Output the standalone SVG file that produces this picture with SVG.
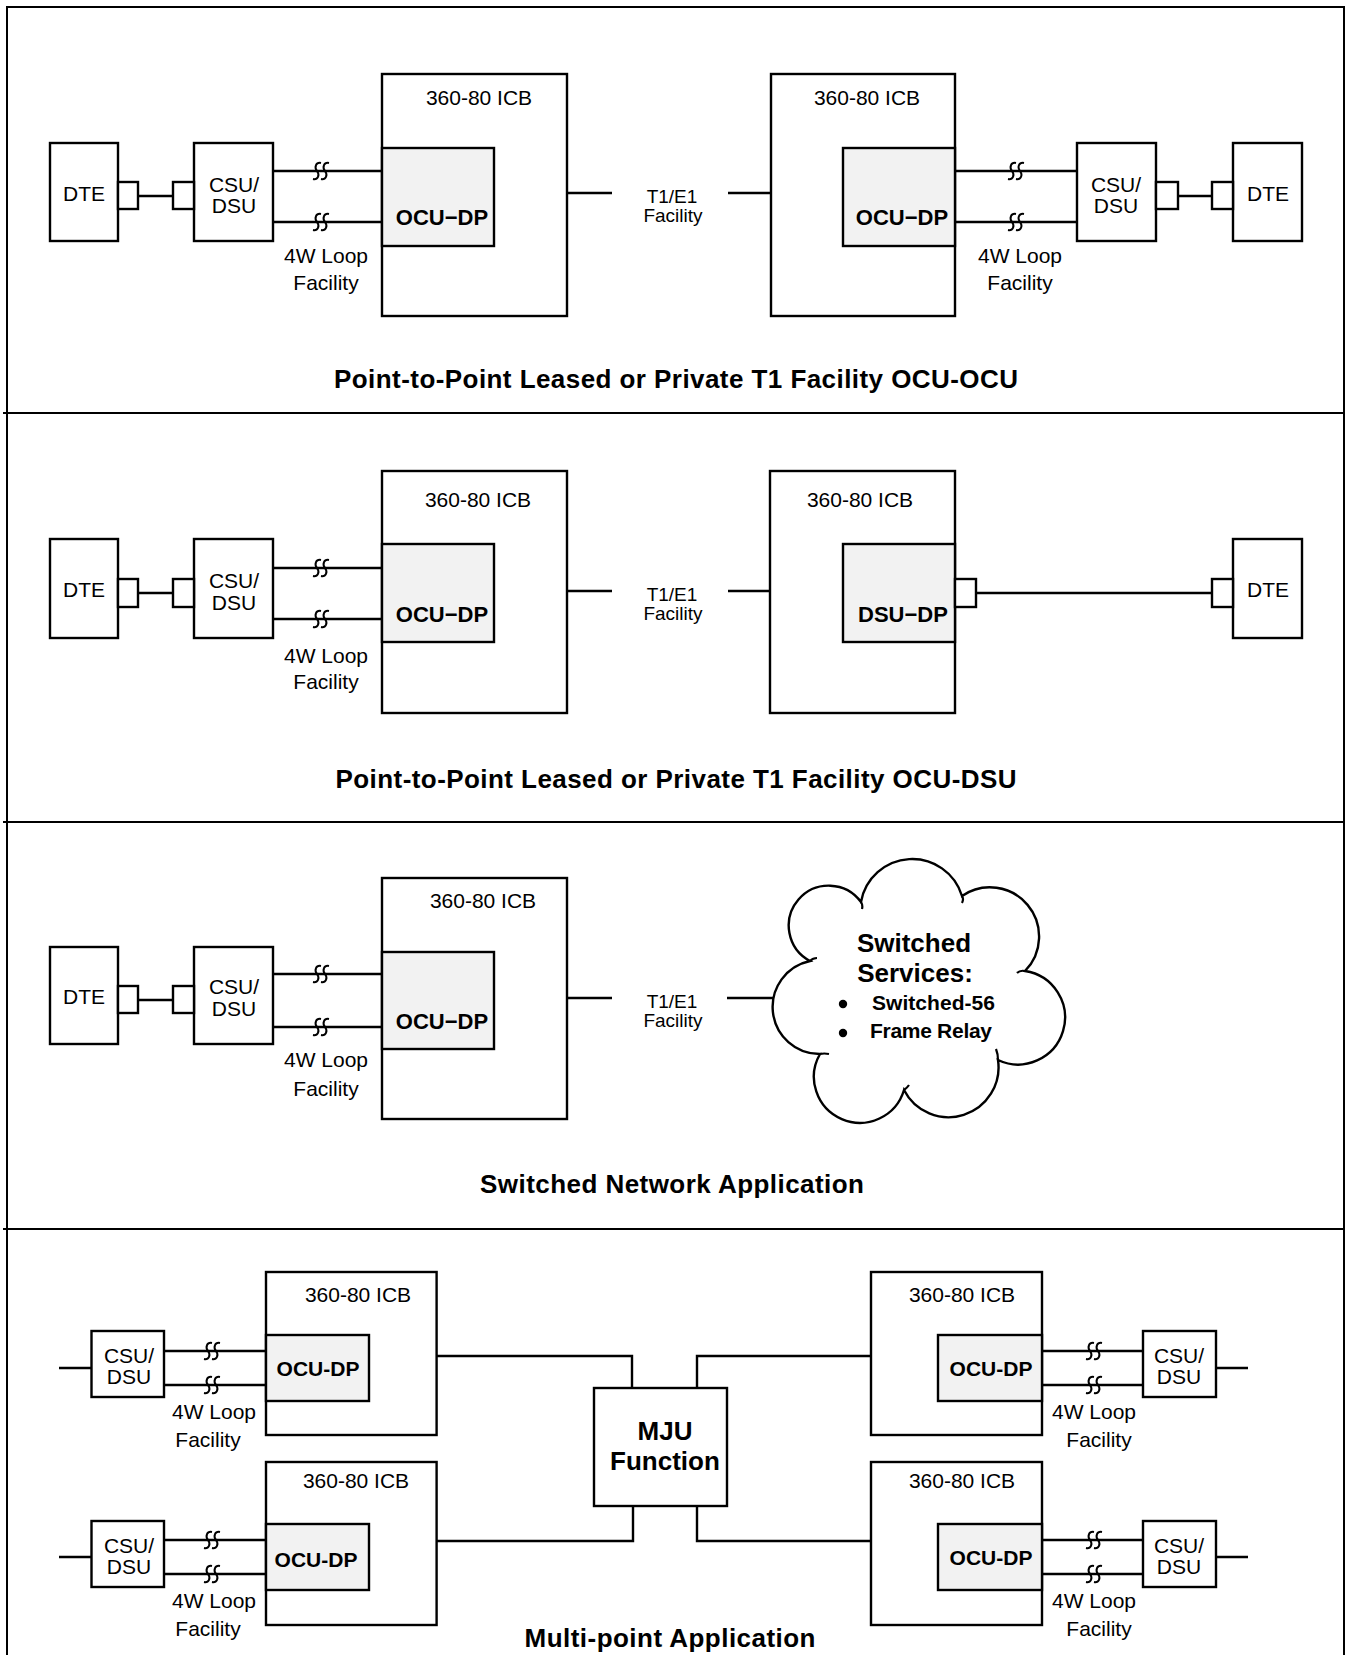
<svg xmlns="http://www.w3.org/2000/svg" xmlns:xlink="http://www.w3.org/1999/xlink" width="1350" height="1655" viewBox="0 0 1350 1655">
<style>
.b{fill:#fff;stroke:#000;stroke-width:2.4}
.g{fill:#f2f2f2;stroke:#000;stroke-width:2.4}
.w{fill:none;stroke:#000;stroke-width:2.4}
.fr{fill:none;stroke:#000;stroke-width:2}
.t{font-family:"Liberation Sans",Arial,Helvetica,sans-serif;font-size:21px;text-anchor:middle;fill:#000}
.s{font-size:19px}
.bd{font-weight:bold}
.ocu{font-weight:bold;font-size:22px}
.big{font-weight:bold;font-size:26px}
.st{text-anchor:start}
</style>
<defs>
<g id="brk" fill="none" stroke="#000" stroke-width="2">
<path d="M0,-8 C-5,-9 -7,-4 -4,0 C-1,4 -3,9 -8,8"/>
<path d="M8,-8 C3,-9 1,-4 4,0 C7,4 5,9 0,8"/>
</g>
</defs>
<rect width="1350" height="1655" fill="#fff"/>
<g id="frame">
<path class="fr" d="M7,1655 V7 H1344 V1655"/>
<path class="fr" stroke-width="1.8" d="M3,413 H1344 M3,822 H1344 M3,1229 H1344"/>
</g>

<g id="connectors">
<path class="w" d="M138,196 H173 M273,171 H382 M273,222 H382 M567,193 H612 M728,193 H771 M955,171 H1077 M955,222 H1077 M1178,196 H1212"/>
<path class="w" d="M138,593 H173 M273,568 H382 M273,619 H382 M567,591 H612 M728,591 H770 M976,593 H1212"/>
<path class="w" d="M138,1000 H173 M273,974 H382 M273,1027 H382 M567,998 H612 M727,998 H773"/>
<path class="w" d="M59,1368 H91.5 M164,1351 H266 M164,1385 H266 M59,1557 H91.5 M164,1540 H266 M164,1574 H266"/>
<path class="w" d="M1042,1351 H1143 M1042,1385 H1143 M1216,1368 H1248 M1042,1540 H1143 M1042,1574 H1143 M1216,1557 H1248"/>
<path class="w" d="M436.6,1356 H632 V1388 M436.6,1541 H633 V1506 M697,1388 V1356 H871 M697,1506 V1541 H871"/>
<use xlink:href="#brk" x="321" y="171"/><use xlink:href="#brk" x="321" y="222"/>
<use xlink:href="#brk" x="1016" y="171"/><use xlink:href="#brk" x="1016" y="222"/>
<use xlink:href="#brk" x="321" y="568"/><use xlink:href="#brk" x="321" y="619"/>
<use xlink:href="#brk" x="321" y="974"/><use xlink:href="#brk" x="321" y="1027"/>
<use xlink:href="#brk" x="212" y="1351"/><use xlink:href="#brk" x="212" y="1385"/>
<use xlink:href="#brk" x="212" y="1540"/><use xlink:href="#brk" x="212" y="1574"/>
<use xlink:href="#brk" x="1094" y="1351"/><use xlink:href="#brk" x="1094" y="1385"/>
<use xlink:href="#brk" x="1094" y="1540"/><use xlink:href="#brk" x="1094" y="1574"/>
</g>

<!-- ===== Section 1 ===== -->
<g id="s1-dte-left">
<rect class="b" x="50" y="143" width="68" height="98"/>
<rect class="b" x="118" y="182" width="20" height="27"/>
<text class="t" x="84" y="201">DTE</text>
</g>
<g id="s1-csu-left">
<rect class="b" x="194" y="143" width="79" height="98"/>
<rect class="b" x="173" y="182" width="21" height="27"/>
<text class="t" x="234" y="192">CSU/</text>
<text class="t" x="234" y="213">DSU</text>
</g>
<g id="s1-loop-left">
<text class="t" x="326" y="263">4W Loop</text>
<text class="t" x="326" y="290">Facility</text>
</g>
<g id="s1-icb-left">
<rect class="b" x="382" y="74" width="185" height="242"/>
<text class="t" x="479" y="105">360-80 ICB</text>
<rect class="g" x="382" y="148" width="112" height="98"/>
<text class="t ocu" x="442" y="225">OCU−DP</text>
</g>
<g id="s1-t1">
<text class="t s" x="672" y="203">T1/E1</text>
<text class="t s" x="673" y="222">Facility</text>
</g>
<g id="s1-icb-right">
<rect class="b" x="771" y="74" width="184" height="242"/>
<text class="t" x="867" y="105">360-80 ICB</text>
<rect class="g" x="843" y="148" width="112" height="98"/>
<text class="t ocu" x="902" y="225">OCU−DP</text>
</g>
<g id="s1-loop-right">
<text class="t" x="1020" y="263">4W Loop</text>
<text class="t" x="1020" y="290">Facility</text>
</g>
<g id="s1-csu-right">
<rect class="b" x="1077" y="143" width="79" height="98"/>
<rect class="b" x="1156" y="182" width="22" height="27"/>
<text class="t" x="1116" y="192">CSU/</text>
<text class="t" x="1116" y="213">DSU</text>
</g>
<g id="s1-dte-right">
<rect class="b" x="1233" y="143" width="69" height="98"/>
<rect class="b" x="1212" y="182" width="21" height="27"/>
<text class="t" x="1268" y="201">DTE</text>
</g>
<g id="s1-title">
<text class="t big" x="676" y="388" textLength="684">Point-to-Point Leased or Private T1 Facility OCU-OCU</text>
</g>

<!-- ===== Section 2 ===== -->
<g id="s2-dte-left">
<rect class="b" x="50" y="539" width="68" height="99"/>
<rect class="b" x="118" y="579" width="20" height="28"/>
<text class="t" x="84" y="597">DTE</text>
</g>
<g id="s2-csu-left">
<rect class="b" x="194" y="539" width="79" height="99"/>
<rect class="b" x="173" y="579" width="21" height="28"/>
<text class="t" x="234" y="588">CSU/</text>
<text class="t" x="234" y="610">DSU</text>
</g>
<g id="s2-loop-left">
<text class="t" x="326" y="663">4W Loop</text>
<text class="t" x="326" y="689">Facility</text>
</g>
<g id="s2-icb-left">
<rect class="b" x="382" y="471" width="185" height="242"/>
<text class="t" x="478" y="507">360-80 ICB</text>
<rect class="g" x="382" y="544" width="112" height="98"/>
<text class="t ocu" x="442" y="622">OCU−DP</text>
</g>
<g id="s2-t1">
<text class="t s" x="672" y="601">T1/E1</text>
<text class="t s" x="673" y="620">Facility</text>
</g>
<g id="s2-icb-right">
<rect class="b" x="770" y="471" width="185" height="242"/>
<text class="t" x="860" y="507">360-80 ICB</text>
<rect class="g" x="843" y="544" width="112" height="98"/>
<text class="t ocu" x="903" y="622">DSU−DP</text>
<rect class="b" x="955" y="579" width="21" height="28"/>
</g>
<g id="s2-dte-right">
<rect class="b" x="1233" y="539" width="69" height="99"/>
<rect class="b" x="1212" y="579" width="21" height="28"/>
<text class="t" x="1268" y="597">DTE</text>
</g>
<g id="s2-title">
<text class="t big" x="676" y="788" textLength="681">Point-to-Point Leased or Private T1 Facility OCU-DSU</text>
</g>

<!-- ===== Section 3 ===== -->
<g id="s3-dte">
<rect class="b" x="50" y="947" width="68" height="97"/>
<rect class="b" x="118" y="986" width="20" height="27"/>
<text class="t" x="84" y="1004">DTE</text>
</g>
<g id="s3-csu">
<rect class="b" x="194" y="947" width="79" height="97"/>
<rect class="b" x="173" y="986" width="21" height="27"/>
<text class="t" x="234" y="994">CSU/</text>
<text class="t" x="234" y="1016">DSU</text>
</g>
<g id="s3-loop">
<text class="t" x="326" y="1067">4W Loop</text>
<text class="t" x="326" y="1096">Facility</text>
</g>
<g id="s3-icb">
<rect class="b" x="382" y="878" width="185" height="241"/>
<text class="t" x="483" y="908">360-80 ICB</text>
<rect class="g" x="382" y="952" width="112" height="97"/>
<text class="t ocu" x="442" y="1029">OCU−DP</text>
</g>
<g id="s3-t1">
<text class="t s" x="672" y="1008">T1/E1</text>
<text class="t s" x="673" y="1027">Facility</text>
</g>
<g id="s3-cloud">
<path class="b" stroke-width="2.2" d="M861,902 A52,52 0 0 1 962,896 A49.2,49.2 0 0 1 1025,971 A47,47 0 1 1 998,1060 A50,50 0 0 1 904,1090 A46,46 0 1 1 820,1054 A47,47 0 0 1 810,961 A40,40 0 1 1 861,902 Z"/>
<path fill="none" stroke="#000" stroke-width="2.2" d="M861,902 q2,3 1,7 M962,896 q2,3 0,7 M1025,971 q-5,-1 -8,2 M998,1060 q0,-6 -2,-11 M904,1090 q3,-2 5,-5 M820,1054 q4,-1 9,0 M810,961 q3,-3 7,-3"/>
<text class="t big" x="914" y="952">Switched</text>
<text class="t big" x="915" y="982">Services:</text>
<circle cx="843" cy="1004" r="4.2" fill="#000"/>
<circle cx="843" cy="1033" r="4.2" fill="#000"/>
<text class="t bd st" x="872" y="1010" font-size="20.5" textLength="123">Switched-56</text>
<text class="t bd st" x="870" y="1038" font-size="20.5" textLength="122">Frame Relay</text>
</g>
<g id="s3-title">
<text class="t big" x="672" y="1193" textLength="384">Switched Network Application</text>
</g>

<!-- ===== Section 4 ===== -->
<g id="s4-csu-ul">
<rect class="b" x="91.5" y="1331" width="72.5" height="66"/>
<text class="t" x="129" y="1363">CSU/</text>
<text class="t" x="129" y="1384">DSU</text>
</g>
<g id="s4-loop-ul">
<text class="t" x="214" y="1419">4W Loop</text>
<text class="t" x="208" y="1447">Facility</text>
</g>
<g id="s4-icb-ul">
<rect class="b" x="266" y="1272" width="170.6" height="163"/>
<text class="t" x="358" y="1302">360-80 ICB</text>
<rect class="g" x="266" y="1335" width="103" height="66"/>
<text class="t bd" x="318" y="1376">OCU-DP</text>
</g>
<g id="s4-csu-ll">
<rect class="b" x="91.5" y="1521" width="72.5" height="66"/>
<text class="t" x="129" y="1553">CSU/</text>
<text class="t" x="129" y="1574">DSU</text>
</g>
<g id="s4-loop-ll">
<text class="t" x="214" y="1608">4W Loop</text>
<text class="t" x="208" y="1636">Facility</text>
</g>
<g id="s4-icb-ll">
<rect class="b" x="266" y="1462" width="170.6" height="163"/>
<text class="t" x="356" y="1488">360-80 ICB</text>
<rect class="g" x="266" y="1524" width="103" height="66"/>
<text class="t bd" x="316" y="1567">OCU-DP</text>
</g>
<g id="s4-mju">
<rect class="b" x="594" y="1388" width="133" height="118"/>
<text class="t big" x="665" y="1440">MJU</text>
<text class="t big" x="665" y="1470">Function</text>
</g>
<g id="s4-icb-ur">
<rect class="b" x="871" y="1272" width="171" height="163"/>
<text class="t" x="962" y="1302">360-80 ICB</text>
<rect class="g" x="938" y="1335" width="104" height="66"/>
<text class="t bd" x="991" y="1376">OCU-DP</text>
</g>
<g id="s4-loop-ur">
<text class="t" x="1094" y="1419">4W Loop</text>
<text class="t" x="1099" y="1447">Facility</text>
</g>
<g id="s4-csu-ur">
<rect class="b" x="1143" y="1331" width="73" height="66"/>
<text class="t" x="1179" y="1363">CSU/</text>
<text class="t" x="1179" y="1384">DSU</text>
</g>
<g id="s4-icb-lr">
<rect class="b" x="871" y="1462" width="171" height="163"/>
<text class="t" x="962" y="1488">360-80 ICB</text>
<rect class="g" x="938" y="1524" width="104" height="66"/>
<text class="t bd" x="991" y="1565">OCU-DP</text>
</g>
<g id="s4-loop-lr">
<text class="t" x="1094" y="1608">4W Loop</text>
<text class="t" x="1099" y="1636">Facility</text>
</g>
<g id="s4-csu-lr">
<rect class="b" x="1143" y="1521" width="73" height="66"/>
<text class="t" x="1179" y="1553">CSU/</text>
<text class="t" x="1179" y="1574">DSU</text>
</g>
<g id="s4-title">
<text class="t big" x="670" y="1647" textLength="291">Multi-point Application</text>
</g>
</svg>
